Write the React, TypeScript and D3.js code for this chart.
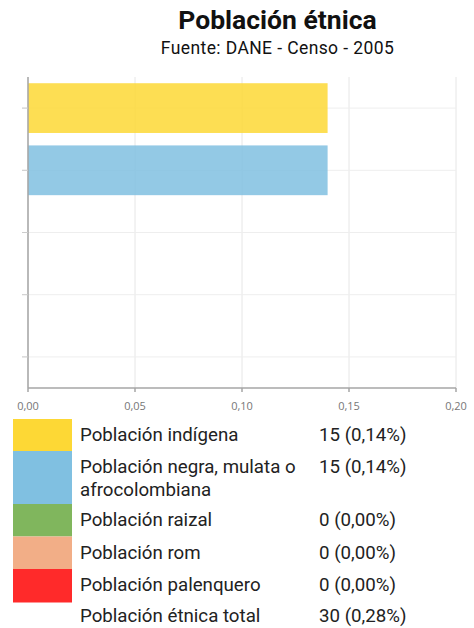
import React from 'react';
import * as d3 from 'd3';

// data
const categories = [
  'Población indígena',
  'Población negra, mulata o afrocolombiana',
  'Población raizal',
  'Población rom',
  'Población palenquero',
];
const percents = [0.14, 0.14, 0, 0, 0];
const counts = [15, 15, 0, 0, 0];
const xTicks = [0, 0.05, 0.1, 0.15, 0.2];
const legendLines = [
  ['Población indígena'],
  ['Población negra, mulata o', 'afrocolombiana'],
  ['Población raizal'],
  ['Población rom'],
  ['Población palenquero'],
];
const totalLabel = 'Población étnica total';
const totalCount = 30;
const totalPercent = 0.28;

const colors = ['#fdd835', '#80c0e1', '#80b65d', '#f2ae87', '#ff2a2a'];

const W = 474;
const H = 628;
const margin = { top: 77, right: 18, left: 28 };
const plotBottom = 388;

const fmtPct = (v: number) => v.toFixed(2).replace('.', ',');

export default function App() {
  const x = d3.scaleLinear().domain([0, 0.2]).range([margin.left, W - margin.right]);
  const y = d3
    .scaleBand()
    .domain(categories)
    .range([margin.top, plotBottom])
    .paddingInner(0.2)
    .paddingOuter(0.1);

  // legend row heights: one-line rows vs two-line row
  const rowTop = [419, 451, 504, 536.5, 569];
  const rowBottom = [451, 504, 536.5, 569, 602.5];

  const font = 'Roboto, "Noto Sans", sans-serif';
  const lfs = 18.7;

  return (
    <div style={{ position: 'absolute', top: 0, left: 0 }}>
      <svg width={W} height={H} style={{ display: 'block', background: '#fff' }}>
        <text x={277.5} y={29} textAnchor="middle" fontFamily={font} fontWeight="bold" fontSize={26.5} fill="#111">
          Población étnica
        </text>
        <text x={277.5} y={54} textAnchor="middle" fontFamily={font} fontSize={17.5} letterSpacing={0.4} fill="#111">
          Fuente: DANE - Censo - 2005
        </text>

        {/* grid */}
        {xTicks.map((t) => (
          <line key={'vg' + t} x1={x(t)} x2={x(t)} y1={margin.top} y2={plotBottom} stroke="#e6e6e6" strokeWidth={1} />
        ))}
        {categories.map((c) => (
          <line
            key={'hg' + c}
            x1={margin.left - 6}
            x2={x(0.2)}
            y1={(y(c) as number) + y.bandwidth() / 2}
            y2={(y(c) as number) + y.bandwidth() / 2}
            stroke="#eeeeee"
            strokeWidth={1}
          />
        ))}

        {/* bars */}
        {categories.map((c, i) => (
          <rect
            key={'bar' + c}
            x={x(0)}
            y={y(c)}
            width={x(percents[i]) - x(0)}
            height={y.bandwidth()}
            fill={colors[i]}
            fillOpacity={0.85}
          />
        ))}

        {/* axes */}
        <line x1={margin.left} x2={margin.left} y1={margin.top} y2={plotBottom} stroke="#a6a6a6" strokeWidth={1.5} />
        {categories.map((c) => (
          <line
            key={'yt' + c}
            x1={margin.left - 6}
            x2={margin.left}
            y1={(y(c) as number) + y.bandwidth() / 2}
            y2={(y(c) as number) + y.bandwidth() / 2}
            stroke="#cccccc"
            strokeWidth={1}
          />
        ))}
        <line x1={margin.left} x2={x(0.2)} y1={plotBottom} y2={plotBottom} stroke="#a6a6a6" strokeWidth={1.5} />
        {xTicks.map((t) => (
          <g key={'xt' + t}>
            <line x1={x(t)} x2={x(t)} y1={plotBottom} y2={plotBottom + 4} stroke="#a6a6a6" strokeWidth={1.5} />
            <text x={x(t)} y={410} textAnchor="middle" fontFamily='"Open Sans", sans-serif' fontSize={11} fill="#777">
              {fmtPct(t)}
            </text>
          </g>
        ))}

        {/* legend */}
        {categories.map((c, i) => (
          <g key={'lg' + c}>
            <rect x={13} y={rowTop[i]} width={59} height={rowBottom[i] - rowTop[i]} fill={colors[i]} />
            {legendLines[i].map((ln, j) => (
              <text key={j} x={80} y={rowTop[i] + 22 + j * 22.5} fontFamily={font} fontSize={lfs} fill="#222">
                {ln}
              </text>
            ))}
            <text x={319} y={rowTop[i] + 22} fontFamily={font} fontSize={lfs} fill="#222">
              {`${counts[i]} (${fmtPct(percents[i])}%)`}
            </text>
          </g>
        ))}
        <text x={80} y={622} fontFamily={font} fontSize={lfs} fill="#222">
          {totalLabel}
        </text>
        <text x={319} y={622} fontFamily={font} fontSize={lfs} fill="#222">
          {`${totalCount} (${fmtPct(totalPercent)}%)`}
        </text>
      </svg>
    </div>
  );
}
